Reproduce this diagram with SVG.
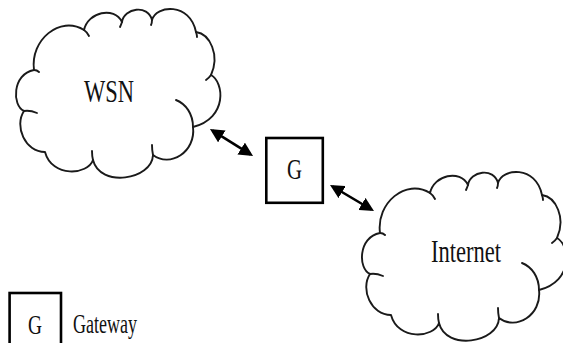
<svg xmlns="http://www.w3.org/2000/svg" xmlns:xlink="http://www.w3.org/1999/xlink" width="563" height="343" viewBox="0 0 563 343">
  <style>
    .cloud { fill: #ffffff; stroke: #1a1a1a; stroke-width: 1.9; stroke-linejoin: round; }
    .tail { fill: none; stroke: #1a1a1a; stroke-width: 1.9; stroke-linecap: round; }
    .box { fill: #ffffff; stroke: #000000; stroke-width: 2.6; }
    .lbl { font-family: "Liberation Serif", "Times New Roman", serif; fill: #111111; }
    .conn { stroke: #000000; stroke-width: 2.6; fill: none; }
  </style>
  <defs>
    <marker id="head" viewBox="0 0 14 14" markerUnits="userSpaceOnUse" markerWidth="14" markerHeight="14" refX="11" refY="7" orient="auto-start-reverse">
      <path d="M0,0 L14,7 L0,14 Z" fill="#000000"/>
    </marker>
    <g id="cloudShape">
      <path class="cloud" d="M34,70 C30,40 60,15 84,30 C88,12 114,6 122,22 C124,8 148,4 152,20 C156,5 190,2 196,32 C210,34 220,55 211,75 C224,82 228,118 193,127 C196,152 170,168 153,155 C152,180 100,188 93,160 C88,175 52,178 45,152 C25,152 14,126 24,111 C12,106 12,74 34,70 Z"/>
      <path class="tail" d="M34,70 Q37,70 39,72 M84,30 Q87,32 89,36 M122,22 Q121,25 120,27 M152,20 Q152,23 151,25 M196,32 Q197,35 197,37 M211,75 Q209,78 206,80 M176,100 C186,104 193,114 193,127 M153,155 Q152,150 152,145 M93,160 Q92,156 92,151 M24,111 Q30,110 37,113"/>
    </g>
  </defs>

  <g id="wsn">
    <use xlink:href="#cloudShape" href="#cloudShape"/>
    <text class="lbl" x="84" y="102" font-size="31" textLength="50" lengthAdjust="spacingAndGlyphs">WSN</text>
  </g>

  <g id="internet">
    <use xlink:href="#cloudShape" href="#cloudShape" transform="translate(346,163)"/>
    <text class="lbl" x="431" y="262" font-size="31" textLength="70" lengthAdjust="spacingAndGlyphs">Internet</text>
  </g>

  <g id="gateway">
    <rect class="box" x="266.3" y="138" width="56.5" height="64.8"/>
    <text class="lbl" x="287" y="179" font-size="29" textLength="15" lengthAdjust="spacingAndGlyphs">G</text>
  </g>

  <g id="connectors">
    <line class="conn" x1="212.5" y1="130.6" x2="250.5" y2="154.4" marker-start="url(#head)" marker-end="url(#head)"/>
    <line class="conn" x1="332.6" y1="186.5" x2="371.4" y2="209.5" marker-start="url(#head)" marker-end="url(#head)"/>
  </g>

  <g id="legend">
    <rect class="box" x="9.6" y="293" width="51.4" height="54"/>
    <text class="lbl" x="28" y="334" font-size="27" textLength="14" lengthAdjust="spacingAndGlyphs">G</text>
    <text class="lbl" x="73" y="333" font-size="27" textLength="64" lengthAdjust="spacingAndGlyphs">Gateway</text>
  </g>
</svg>
